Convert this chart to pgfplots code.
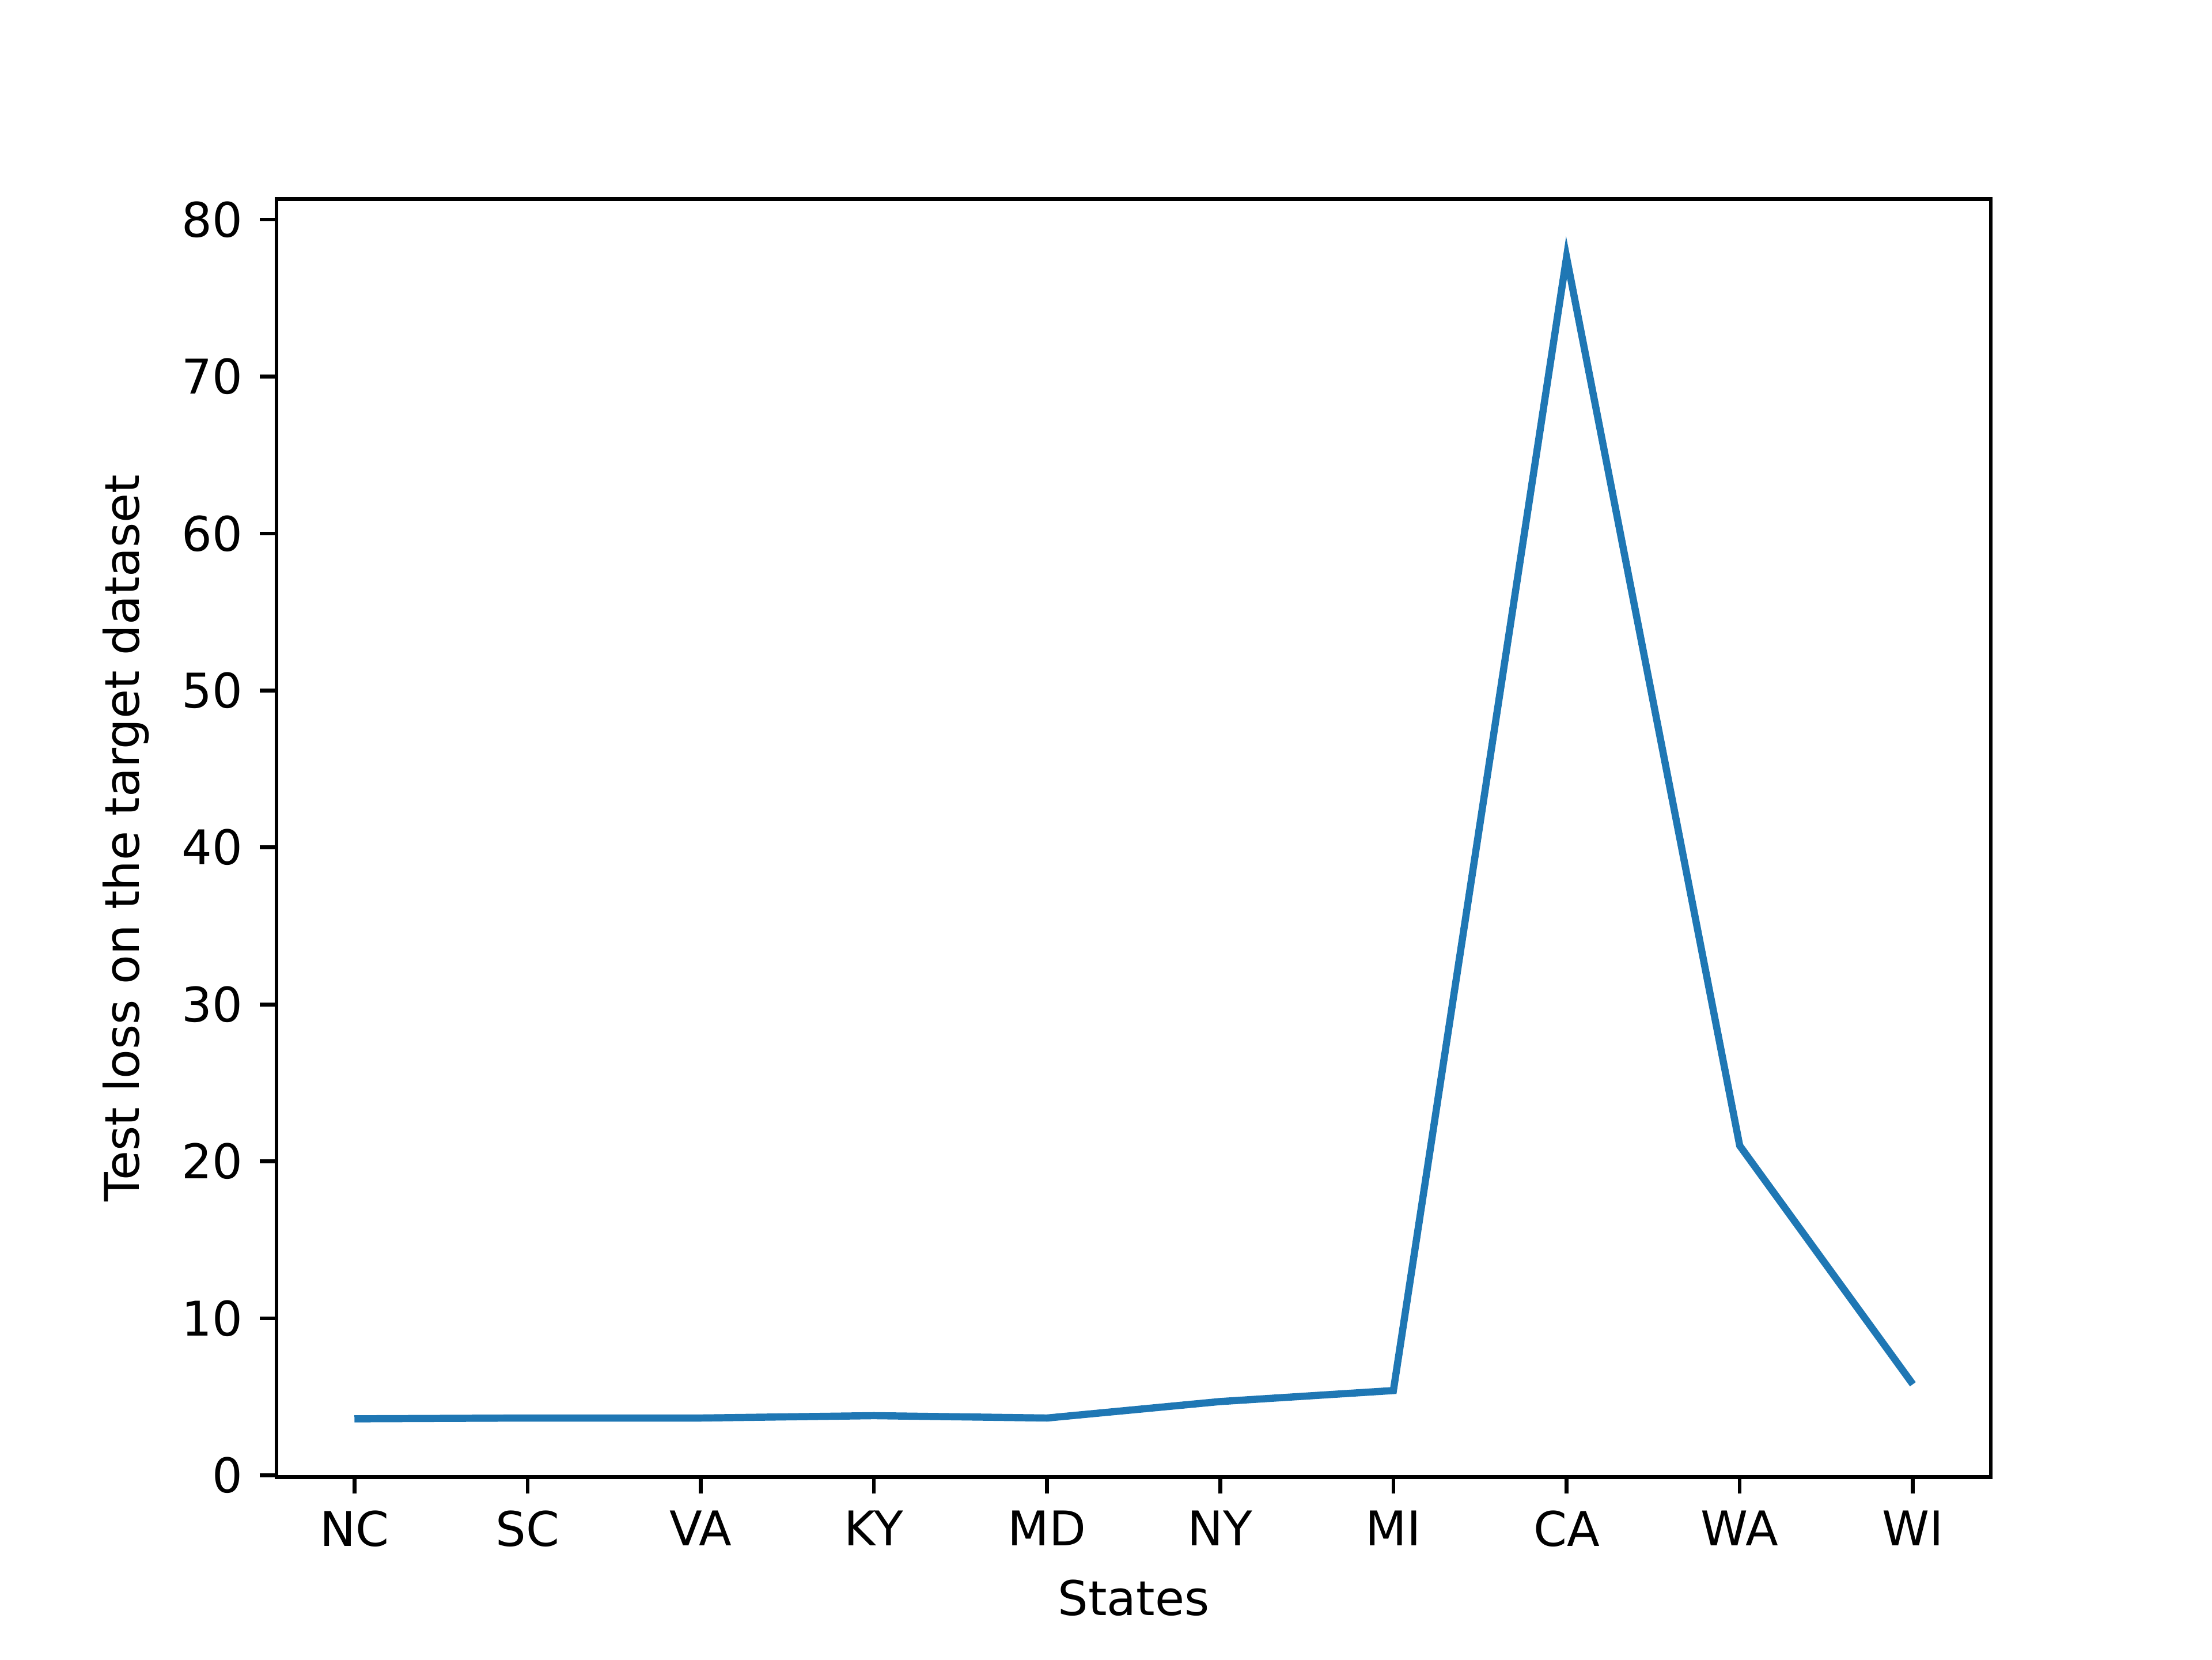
\documentclass[border=0pt]{standalone}
\usepackage{pgfplots}
\pgfplotsset{compat=1.18}
\usepackage{fontspec}
\setmainfont{DejaVu Sans}
\definecolor{mplblue}{HTML}{1F77B4}
\begin{document}
\begin{tikzpicture}
\useasboundingbox (-0.8in,-0.528in) rectangle ++(6.4in,4.8in);
\begin{axis}[at={(0,0)},anchor=south west,
  scale only axis, width=4.96in, height=3.696in,
  xmin=-0.45, xmax=9.45, ymin=-0.1, ymax=81.3,
  xtick={0,...,9}, xticklabels={NC,SC,VA,KY,MD,NY,MI,CA,WA,WI},
  ytick={0,10,...,80},
  tick align=outside, tick pos=left, major tick length=3.5pt,
  /pgf/number format/assume math mode=true,
  tick label style={font=\fontsize{10}{12}\selectfont},
  label style={font=\fontsize{10}{12}\selectfont},
  xlabel={States}, ylabel={Test loss on the target dataset},
  axis line style={line width=0.8pt}, every tick/.style={line width=0.8pt,black},
]
\addplot[mplblue, line width=1.5pt] coordinates {(0,3.6)(1,3.65)(2,3.65)(3,3.8)(4,3.65)(5,4.7)(6,5.4)(7,77.6)(8,21)(9,5.8)};
\end{axis}
\end{tikzpicture}
\end{document}
